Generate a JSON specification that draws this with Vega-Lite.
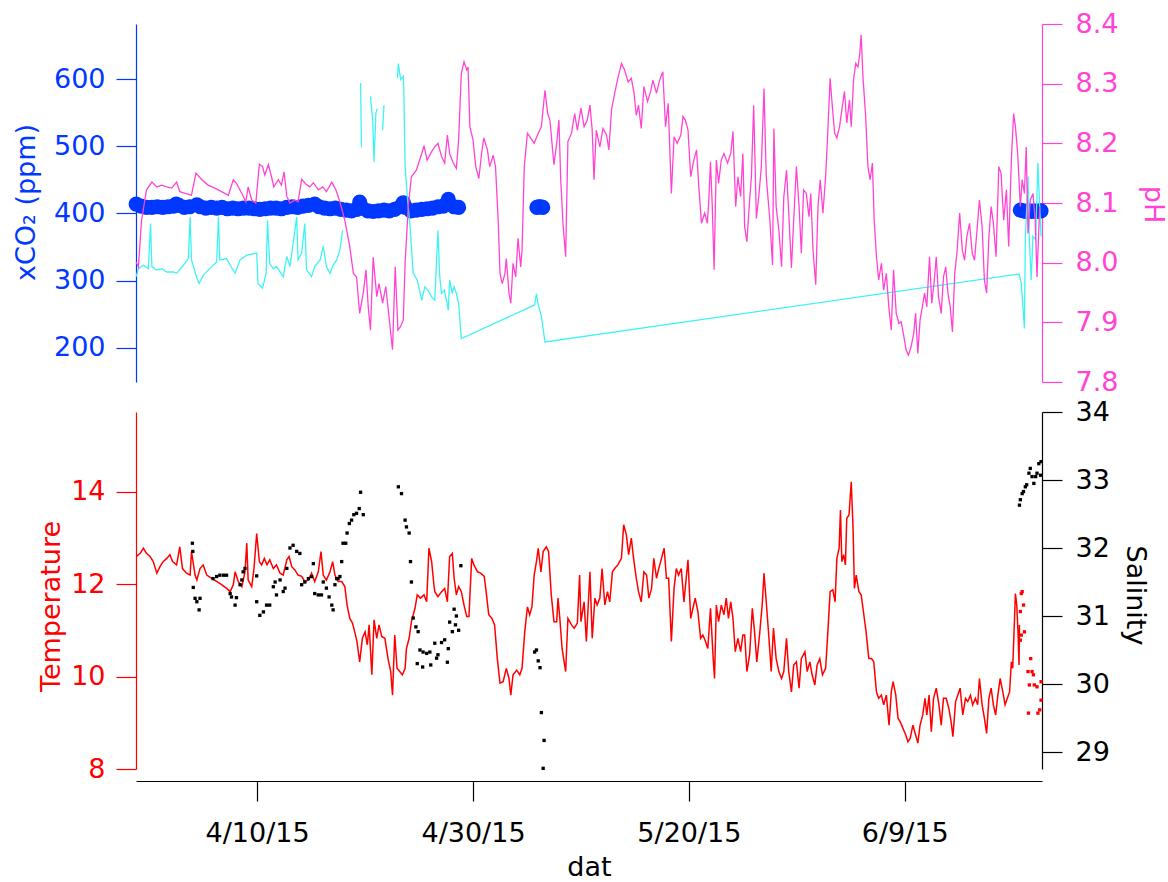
{
"$schema":"https://vega.github.io/schema/vega-lite/v6.json",
"width":906,"height":746,
"autosize":{"type":"none"},
"padding":{"left":136,"top":24,"right":126,"bottom":112},
"config":{"view":{"stroke":null},"axis":{"grid":false,"tickSize":20,"labelFont":"DejaVu Sans","titleFont":"DejaVu Sans","labelFontSize":27,"titleFontSize":27,"titleFontWeight":"normal","domainWidth":1.2,"tickWidth":1.2}},
"encoding":{
"x":{"field":"t","type":"temporal","scale":{"type":"time","nice":false,"domain":[{"year":2015,"month":3,"date":29,"hours":18,"minutes":40},{"year":2015,"month":6,"date":21,"hours":17,"minutes":6}]},"axis":{"orient":"bottom","offset":11,"values":[{"year":2015,"month":4,"date":10},{"year":2015,"month":4,"date":30},{"year":2015,"month":5,"date":20},{"year":2015,"month":6,"date":9}],"format":"%-m/%-d/%y","title":"dat","labelPadding":19,"titleY":94,"titleBaseline":"alphabetic","domainColor":"#000000","tickColor":"#000000","labelColor":"#000000","titleColor":"#000000"}}
},
"layer":[
{"data":{"values":[
{"t":"1508819","v":414},{"t":"1508906","v":411},{"t":"1508918","v":409},{"t":"1509006","v":409},{"t":"1509018","v":410},{"t":"1509106","v":409},{"t":"1509118","v":410},{"t":"1509206","v":411},{"t":"1509212","v":414},{"t":"1509218","v":412},{"t":"1509306","v":409},{"t":"1509318","v":410},{"t":"1509410","v":413},{"t":"1509418","v":410},{"t":"1509506","v":408},{"t":"1509518","v":409},{"t":"1509606","v":408},{"t":"1509618","v":409},{"t":"1509706","v":407},{"t":"1509718","v":408},{"t":"1509806","v":407},{"t":"1509818","v":408},{"t":"1509906","v":408},{"t":"1509918","v":407},{"t":"1510006","v":406},{"t":"1510018","v":407},{"t":"1510106","v":408},{"t":"1510118","v":408},{"t":"1510206","v":407},{"t":"1510218","v":409},{"t":"1510306","v":410},{"t":"1510318","v":409},{"t":"1510406","v":411},{"t":"1510418","v":412},{"t":"1510508","v":414},{"t":"1510518","v":410},{"t":"1510606","v":408},{"t":"1510618","v":407},{"t":"1510706","v":408},{"t":"1510718","v":406},{"t":"1510806","v":405},{"t":"1510818","v":404},{"t":"1510906","v":406},{"t":"1510912","v":417},{"t":"1510918","v":408},{"t":"1511006","v":404},{"t":"1511018","v":403},{"t":"1511106","v":404},{"t":"1511118","v":405},{"t":"1511206","v":404},{"t":"1511218","v":406},{"t":"1511306","v":410},{"t":"1511313","v":416},{"t":"1511318","v":409},{"t":"1511406","v":404},{"t":"1511418","v":405},{"t":"1511506","v":406},{"t":"1511518","v":407},{"t":"1511606","v":408},{"t":"1511618","v":410},{"t":"1511706","v":411},{"t":"1511717","v":421},{"t":"1511806","v":410},{"t":"1511816","v":409},
{"t":"1512522","v":409},{"t":"1512602","v":410},{"t":"1512606","v":410},{"t":"1512611","v":409},
{"t":"1517017","v":405},{"t":"1517100","v":404},{"t":"1517106","v":403},{"t":"1517112","v":404},{"t":"1517118","v":403},{"t":"1517200","v":404},{"t":"1517206","v":403},{"t":"1517212","v":404},{"t":"1517215","v":404}
],"format":{"parse":{"t":"date:'%y%j%H'"}}},
"mark":{"type":"circle","size":230,"opacity":1,"color":"#0038ff"},
"encoding":{
"y":{"field":"v","type":"quantitative","scale":{"domain":[149.4,681.8],"range":[358,0],"nice":false,"zero":false},"axis":{"orient":"left","values":[200,300,400,500,600],"title":"xCO₂ (ppm)","domainColor":"#0038ff","tickColor":"#0038ff","labelColor":"#0038ff","titleColor":"#0038ff","labelPadding":11,"titleX":-110,"titleY":178,"titleBaseline":"middle","titleAngle":270,"titleAlign":"center"}}}},
{"data":{"values":[
{"t":"1508819","v":306,"s":1},{"t":"1508900","v":318,"s":1},{"t":"1508911","v":323,"s":1},{"t":"1508922","v":318,"s":1},{"t":"1509003","v":385,"s":1},{"t":"1509006","v":321,"s":1},{"t":"1509017","v":316,"s":1},{"t":"1509104","v":318,"s":1},{"t":"1509115","v":313,"s":1},{"t":"1509206","v":313,"s":1},{"t":"1509213","v":311,"s":1},{"t":"1509304","v":323,"s":1},{"t":"1509315","v":333,"s":1},{"t":"1509319","v":395,"s":1},{"t":"1509322","v":331,"s":1},{"t":"1509410","v":304,"s":1},{"t":"1509415","v":296,"s":1},{"t":"1509500","v":308,"s":1},{"t":"1509519","v":321,"s":1},{"t":"1509606","v":328,"s":1},{"t":"1509610","v":395,"s":1},{"t":"1509613","v":331,"s":1},{"t":"1509704","v":333,"s":1},{"t":"1509712","v":323,"s":1},{"t":"1509723","v":311,"s":1},{"t":"1509810","v":331,"s":1},{"t":"1509901","v":338,"s":1},{"t":"1509923","v":341,"s":1},{"t":"1510002","v":296,"s":1},{"t":"1510012","v":289,"s":1},{"t":"1510020","v":311,"s":1},{"t":"1510023","v":390,"s":1},{"t":"1510104","v":326,"s":1},{"t":"1510112","v":318,"s":1},{"t":"1510119","v":321,"s":1},{"t":"1510210","v":306,"s":1},{"t":"1510218","v":336,"s":1},{"t":"1510301","v":321,"s":1},{"t":"1510316","v":395,"s":1},{"t":"1510319","v":331,"s":1},{"t":"1510403","v":341,"s":1},{"t":"1510410","v":385,"s":1},{"t":"1510414","v":316,"s":1},{"t":"1510501","v":306,"s":1},{"t":"1510508","v":321,"s":1},{"t":"1510520","v":331,"s":1},{"t":"1510603","v":351,"s":1},{"t":"1510610","v":321,"s":1},{"t":"1510618","v":311,"s":1},{"t":"1510701","v":323,"s":1},{"t":"1510709","v":331,"s":1},{"t":"1510716","v":346,"s":1},{"t":"1510722","v":375,"s":1},
{"t":"1510914","v":594,"s":2},{"t":"1510916","v":499,"s":2},
{"t":"1511012","v":574,"s":3},{"t":"1511017","v":539,"s":3},{"t":"1511020","v":477,"s":3},{"t":"1511100","v":549,"s":3},{"t":"1511103","v":556,"s":3},
{"t":"1511115","v":524,"s":4},{"t":"1511118","v":561,"s":4},
{"t":"1511300","v":601,"s":5},{"t":"1511302","v":623,"s":5},{"t":"1511307","v":599,"s":5},{"t":"1511313","v":604,"s":5},{"t":"1511314","v":589,"s":5},{"t":"1511317","v":470,"s":5},{"t":"1511322","v":425,"s":5},{"t":"1511404","v":380,"s":5},{"t":"1511411","v":311,"s":5},{"t":"1511420","v":301,"s":5},{"t":"1511506","v":271,"s":5},{"t":"1511513","v":291,"s":5},{"t":"1511520","v":286,"s":5},{"t":"1511604","v":276,"s":5},{"t":"1511611","v":271,"s":5},{"t":"1511618","v":375,"s":5},{"t":"1511622","v":306,"s":5},{"t":"1511702","v":281,"s":5},{"t":"1511708","v":286,"s":5},{"t":"1511713","v":271,"s":5},{"t":"1511717","v":256,"s":5},{"t":"1511720","v":301,"s":5},{"t":"1511802","v":281,"s":5},{"t":"1511806","v":291,"s":5},{"t":"1511811","v":281,"s":5},{"t":"1511816","v":266,"s":5},{"t":"1511822","v":214,"s":5},{"t":"1512517","v":264,"s":5},{"t":"1512521","v":281,"s":5},{"t":"1512601","v":264,"s":5},{"t":"1512608","v":247,"s":5},{"t":"1512616","v":209,"s":5},{"t":"1517014","v":310,"s":5},{"t":"1517019","v":296,"s":5},{"t":"1517102","v":229,"s":5},{"t":"1517104","v":361,"s":5},{"t":"1517110","v":455,"s":5},{"t":"1517113","v":361,"s":5},{"t":"1517117","v":301,"s":5},{"t":"1517121","v":366,"s":5},{"t":"1517203","v":361,"s":5},{"t":"1517208","v":475,"s":5},{"t":"1517212","v":410,"s":5},{"t":"1517215","v":366,"s":5}
],"format":{"parse":{"t":"date:'%y%j%H'"}}},
"mark":{"type":"line","color":"#3ff3f3","strokeWidth":1.3},
"encoding":{
"y":{"field":"v","type":"quantitative","scale":{"domain":[149.4,681.8],"range":[358,0],"nice":false,"zero":false},"axis":null},
"detail":{"field":"s","type":"nominal"}}},
{"data":{"values":[
{"t":"1508819","v":8.001},{"t":"1508900","v":7.993},{"t":"1508907","v":8.071},{"t":"1508918","v":8.122},{"t":"1509006","v":8.135},{"t":"1509017","v":8.127},{"t":"1509104","v":8.130},{"t":"1509115","v":8.127},{"t":"1509202","v":8.125},{"t":"1509213","v":8.135},{"t":"1509220","v":8.119},{"t":"1509308","v":8.116},{"t":"1509322","v":8.113},{"t":"1509408","v":8.150},{"t":"1509421","v":8.139},{"t":"1509511","v":8.130},{"t":"1509602","v":8.125},{"t":"1509617","v":8.119},{"t":"1509708","v":8.113},{"t":"1509719","v":8.139},{"t":"1509802","v":8.133},{"t":"1509814","v":8.116},{"t":"1509823","v":8.102},{"t":"1509904","v":8.127},{"t":"1509912","v":8.105},{"t":"1509921","v":8.100},{"t":"1510005","v":8.165},{"t":"1510012","v":8.161},{"t":"1510017","v":8.147},{"t":"1510101","v":8.164},{"t":"1510108","v":8.144},{"t":"1510113","v":8.127},{"t":"1510123","v":8.139},{"t":"1510206","v":8.130},{"t":"1510212","v":8.152},{"t":"1510218","v":8.111},{"t":"1510301","v":8.100},{"t":"1510312","v":8.105},{"t":"1510319","v":8.102},{"t":"1510403","v":8.140},{"t":"1510412","v":8.132},{"t":"1510421","v":8.127},{"t":"1510505","v":8.134},{"t":"1510516","v":8.122},{"t":"1510602","v":8.127},{"t":"1510610","v":8.119},{"t":"1510622","v":8.135},{"t":"1510707","v":8.122},{"t":"1510716","v":8.102},{"t":"1510803","v":8.071},{"t":"1510814","v":8.027},{"t":"1510822","v":7.982},{"t":"1510905","v":7.976},{"t":"1510912","v":7.915},{"t":"1510920","v":7.949},{"t":"1511002","v":7.988},{"t":"1511007","v":7.926},{"t":"1511012","v":7.887},{"t":"1511018","v":8.009},{"t":"1511102","v":7.943},{"t":"1511107","v":7.965},{"t":"1511115","v":7.932},{"t":"1511122","v":7.960},{"t":"1511206","v":7.904},{"t":"1511213","v":7.854},{"t":"1511219","v":7.993},{"t":"1511301","v":7.887},{"t":"1511307","v":7.893},{"t":"1511313","v":7.904},{"t":"1511317","v":7.999},{"t":"1511400","v":8.094},{"t":"1511407","v":8.144},{"t":"1511418","v":8.155},{"t":"1511506","v":8.183},{"t":"1511511","v":8.196},{"t":"1511518","v":8.172},{"t":"1511604","v":8.186},
{"t":"1511611","v":8.194},{"t":"1511618","v":8.200},{"t":"1511702","v":8.178},{"t":"1511709","v":8.167},{"t":"1511715","v":8.214},{"t":"1511720","v":8.183},{"t":"1511804","v":8.167},{"t":"1511811","v":8.158},{"t":"1511816","v":8.206},{"t":"1511822","v":8.317},{"t":"1511904","v":8.337},{"t":"1511910","v":8.323},{"t":"1511913","v":8.328},{"t":"1511917","v":8.228},{"t":"1512000","v":8.206},{"t":"1512006","v":8.161},{"t":"1512013","v":8.141},{"t":"1512019","v":8.183},{"t":"1512100","v":8.209},{"t":"1512108","v":8.189},{"t":"1512113","v":8.161},{"t":"1512121","v":8.180},{"t":"1512202","v":8.161},{"t":"1512208","v":8.071},{"t":"1512212","v":7.982},{"t":"1512217","v":7.965},{"t":"1512223","v":7.982},{"t":"1512302","v":8.007},{"t":"1512308","v":7.949},{"t":"1512312","v":7.932},{"t":"1512317","v":7.999},{"t":"1512323","v":7.976},{"t":"1512404","v":8.041},{"t":"1512410","v":7.993},{"t":"1512413","v":8.021},{"t":"1512418","v":8.161},{"t":"1512501","v":8.217},{"t":"1512508","v":8.209},{"t":"1512516","v":8.200},{"t":"1512601","v":8.217},{"t":"1512608","v":8.228},{"t":"1512616","v":8.289},{"t":"1512622","v":8.250},{"t":"1512703","v":8.239},{"t":"1512708","v":8.197},{"t":"1512712","v":8.164},{"t":"1512718","v":8.200},{"t":"1512723","v":8.239},{"t":"1512803","v":8.139},{"t":"1512808","v":8.066},{"t":"1512814","v":8.010},{"t":"1512819","v":8.203},{"t":"1512903","v":8.217},{"t":"1512910","v":8.250},{"t":"1512916","v":8.222},{"t":"1513000","v":8.259},{"t":"1513007","v":8.228},{"t":"1513014","v":8.239},{"t":"1513020","v":8.264},{"t":"1513101","v":8.222},{"t":"1513105","v":8.139},{"t":"1513110","v":8.222},{"t":"1513118","v":8.194},{"t":"1513201","v":8.225},{"t":"1513209","v":8.214},{"t":"1513214","v":8.189},{"t":"1513220","v":8.256},{"t":"1513303","v":8.284},{"t":"1513310","v":8.309},{"t":"1513318","v":8.334},{"t":"1513401","v":8.323},{"t":"1513409","v":8.303},{"t":"1513416","v":8.309},{"t":"1513422","v":8.284},{"t":"1513503","v":8.247},{"t":"1513508","v":8.264},{"t":"1513514","v":8.225},{"t":"1513520","v":8.295},{"t":"1513604","v":8.270},{"t":"1513611","v":8.287},{"t":"1513616","v":8.306},{"t":"1513700","v":8.284},{"t":"1513707","v":8.306},{"t":"1513714","v":8.320},{"t":"1513720","v":8.228},{"t":"1513802","v":8.267},{"t":"1513809","v":8.116},{"t":"1513815","v":8.211},{"t":"1513822","v":8.200},{"t":"1513906","v":8.214},{"t":"1513911","v":8.245},{"t":"1513916","v":8.239},{"t":"1513922","v":8.222},{"t":"1514004","v":8.144},{"t":"1514011","v":8.172},{"t":"1514017","v":8.189},{"t":"1514022","v":8.127},{"t":"1514104","v":8.066},{"t":"1514111","v":8.083},{"t":"1514117","v":8.066},{"t":"1514120","v":8.100},{"t":"1514200","v":8.169},{"t":"1514204","v":8.094},{"t":"1514208","v":7.988},{"t":"1514213","v":8.172},{"t":"1514218","v":8.133},{"t":"1514300","v":8.172},{"t":"1514306","v":8.183},{"t":"1514314","v":8.167},{"t":"1514321","v":8.183},{"t":"1514402","v":8.220},{"t":"1514408","v":8.094},{"t":"1514413","v":8.144},{"t":"1514419","v":8.111},{"t":"1514500","v":8.183},
{"t":"1514504","v":8.060},{"t":"1514509","v":8.035},{"t":"1514515","v":8.105},{"t":"1514519","v":8.144},{"t":"1514600","v":8.264},{"t":"1514606","v":8.074},{"t":"1514612","v":8.116},{"t":"1514617","v":8.161},{"t":"1514623","v":8.292},{"t":"1514704","v":8.144},{"t":"1514712","v":8.071},{"t":"1514718","v":7.996},{"t":"1514721","v":8.225},{"t":"1514802","v":8.094},{"t":"1514808","v":8.055},{"t":"1514814","v":7.993},{"t":"1514819","v":8.110},{"t":"1514901","v":8.155},{"t":"1514906","v":8.083},{"t":"1514912","v":7.991},{"t":"1514917","v":8.071},{"t":"1514923","v":8.161},{"t":"1515005","v":8.094},{"t":"1515010","v":8.016},{"t":"1515015","v":8.122},{"t":"1515021","v":8.116},{"t":"1515103","v":8.077},{"t":"1515107","v":8.116},{"t":"1515112","v":8.021},{"t":"1515118","v":7.963},{"t":"1515123","v":8.094},{"t":"1515204","v":8.139},{"t":"1515210","v":8.083},{"t":"1515216","v":8.144},{"t":"1515221","v":8.222},{"t":"1515302","v":8.309},{"t":"1515307","v":8.261},{"t":"1515312","v":8.217},{"t":"1515317","v":8.209},{"t":"1515323","v":8.228},{"t":"1515405","v":8.261},{"t":"1515410","v":8.287},{"t":"1515415","v":8.234},{"t":"1515421","v":8.273},{"t":"1515501","v":8.228},{"t":"1515506","v":8.306},{"t":"1515511","v":8.334},{"t":"1515516","v":8.328},{"t":"1515520","v":8.351},{"t":"1515523","v":8.382},{"t":"1515603","v":8.312},{"t":"1515609","v":8.245},{"t":"1515614","v":8.161},{"t":"1515619","v":8.139},{"t":"1515700","v":8.167},{"t":"1515704","v":8.071},{"t":"1515709","v":8.010},{"t":"1515714","v":7.971},{"t":"1515720","v":7.999},{"t":"1515801","v":7.954},{"t":"1515807","v":7.982},{"t":"1515813","v":7.921},{"t":"1515818","v":7.887},{"t":"1515823","v":7.988},{"t":"1515905","v":7.915},{"t":"1515911","v":7.898},{"t":"1515916","v":7.901},{"t":"1515922","v":7.876},{"t":"1516003","v":7.854},{"t":"1516008","v":7.845},{"t":"1516014","v":7.859},{"t":"1516020","v":7.882},{"t":"1516100","v":7.915},{"t":"1516105","v":7.848},{"t":"1516110","v":7.904},{"t":"1516115","v":7.926},{"t":"1516120","v":7.949},{"t":"1516201","v":7.926},{"t":"1516207","v":8.010},{"t":"1516212","v":7.932},{"t":"1516217","v":7.965},{"t":"1516222","v":8.010},{"t":"1516303","v":7.943},{"t":"1516309","v":7.915},{"t":"1516314","v":7.976},{"t":"1516319","v":7.993},{"t":"1516400","v":7.949},{"t":"1516405","v":7.926},{"t":"1516410","v":7.884},{"t":"1516415","v":7.982},{"t":"1516420","v":8.016},{"t":"1516502","v":8.083},{"t":"1516508","v":8.021},{"t":"1516513","v":8.004},{"t":"1516518","v":8.044},{"t":"1516600","v":8.066},{"t":"1516606","v":8.016},{"t":"1516611","v":8.004},{"t":"1516616","v":8.049},{"t":"1516622","v":8.105},{"t":"1516704","v":8.060},{"t":"1516709","v":7.971},{"t":"1516714","v":7.949},{"t":"1516719","v":8.044},{"t":"1516800","v":8.094},{"t":"1516805","v":8.066},{"t":"1516811","v":8.010},{"t":"1516817","v":8.161},{"t":"1516822","v":8.150},{"t":"1516904","v":8.071},{"t":"1516910","v":8.122},{"t":"1516915","v":8.027},{"t":"1516921","v":8.172},{"t":"1517002","v":8.250},{"t":"1517006","v":8.228},{"t":"1517011","v":8.183},{"t":"1517017","v":8.094},{"t":"1517021","v":8.139},{"t":"1517102","v":8.116},{"t":"1517106","v":8.194},{"t":"1517110","v":8.049},{"t":"1517115","v":8.105},{"t":"1517121","v":8.116},{"t":"1517202","v":8.071},{"t":"1517206","v":7.976},{"t":"1517212","v":8.094}
],"format":{"parse":{"t":"date:'%y%j%H'"}}},
"mark":{"type":"line","color":"#ff44d4","strokeWidth":1.3},
"encoding":{
"y":{"field":"v","type":"quantitative","scale":{"domain":[7.8,8.4],"range":[358,0],"nice":false,"zero":false},"axis":{"orient":"right","values":[7.8,7.9,8.0,8.1,8.2,8.3,8.4],"format":".1f","title":"pH","domainColor":"#ff44d4","tickColor":"#ff44d4","labelColor":"#ff44d4","titleColor":"#ff44d4","labelPadding":13,"titleX":110,"titleY":180,"titleBaseline":"middle","titleAngle":90,"titleAlign":"center"}}}},
{"data":{"values":[
{"t":"1508819","v":12.60},{"t":"1508904","v":12.67},{"t":"1508911","v":12.78},{"t":"1508918","v":12.67},{"t":"1509002","v":12.60},{"t":"1509009","v":12.49},{"t":"1509017","v":12.24},{"t":"1509100","v":12.38},{"t":"1509107","v":12.49},{"t":"1509115","v":12.56},{"t":"1509122","v":12.64},{"t":"1509204","v":12.49},{"t":"1509213","v":12.42},{"t":"1509220","v":12.81},{"t":"1509302","v":12.34},{"t":"1509311","v":12.24},{"t":"1509319","v":12.20},{"t":"1509322","v":12.71},{"t":"1509406","v":12.20},{"t":"1509410","v":12.09},{"t":"1509417","v":12.34},{"t":"1509500","v":12.42},{"t":"1509508","v":12.20},{"t":"1509519","v":12.13},{"t":"1509606","v":12.06},{"t":"1509617","v":11.99},{"t":"1509704","v":11.91},{"t":"1509712","v":11.84},{"t":"1509719","v":11.99},{"t":"1509723","v":12.27},{"t":"1509806","v":12.06},{"t":"1509814","v":11.95},{"t":"1509821","v":12.27},{"t":"1509901","v":12.89},{"t":"1509904","v":12.09},{"t":"1509912","v":11.95},{"t":"1509917","v":12.34},{"t":"1509923","v":13.10},{"t":"1510005","v":12.49},{"t":"1510010","v":12.42},{"t":"1510016","v":12.56},{"t":"1510022","v":12.42},{"t":"1510104","v":12.53},{"t":"1510112","v":12.34},{"t":"1510119","v":12.42},{"t":"1510203","v":12.24},{"t":"1510210","v":12.20},{"t":"1510218","v":12.53},{"t":"1510223","v":12.60},{"t":"1510305","v":12.38},{"t":"1510312","v":12.31},{"t":"1510319","v":12.20},{"t":"1510403","v":12.17},{"t":"1510410","v":12.06},{"t":"1510418","v":12.09},{"t":"1510501","v":12.24},{"t":"1510508","v":12.06},{"t":"1510516","v":12.27},{"t":"1510522","v":12.71},{"t":"1510603","v":12.20},{"t":"1510610","v":12.09},{"t":"1510618","v":12.27},{"t":"1510700","v":12.49},{"t":"1510705","v":12.20},{"t":"1510712","v":12.06},{"t":"1510720","v":12.06},{"t":"1510803","v":11.95},{"t":"1510808","v":11.55},{"t":"1510814","v":11.26},{"t":"1510820","v":11.16},{"t":"1510901","v":10.97},{"t":"1510906","v":10.76},{"t":"1510912","v":10.32},{"t":"1510918","v":10.83},{"t":"1511000","v":10.97},{"t":"1511005","v":10.69},{"t":"1511009","v":11.12},{"t":"1511015","v":10.04},{"t":"1511020","v":11.23},{"t":"1511102","v":10.83},{"t":"1511107","v":11.12},{"t":"1511113","v":10.87},{"t":"1511120","v":10.83},{"t":"1511203","v":10.39},{"t":"1511209","v":10.11},{"t":"1511213","v":9.60},{"t":"1511218","v":10.90},{"t":"1511223","v":10.18},{"t":"1511305","v":10.11},{"t":"1511311","v":10.04},{"t":"1511317","v":10.18},{"t":"1511320","v":10.61},{"t":"1511402","v":10.83},{"t":"1511407","v":11.19},{"t":"1511415","v":11.48},{"t":"1511420","v":11.77},{"t":"1511503","v":11.70},{"t":"1511511","v":11.77},{"t":"1511517","v":11.62},{"t":"1511522","v":12.78},{"t":"1511604","v":12.49},{"t":"1511609","v":11.99},{"t":"1511611","v":11.84},{"t":"1511618","v":11.73},{"t":"1511702","v":11.84},{"t":"1511709","v":11.91},{"t":"1511715","v":11.62},{"t":"1511720","v":12.60},{"t":"1511802","v":12.67},{"t":"1511806","v":12.13},{"t":"1511811","v":11.77},{"t":"1511816","v":11.95},{"t":"1511822","v":11.84},{"t":"1511904","v":11.55},{"t":"1511910","v":11.30},{"t":"1511915","v":11.30},{"t":"1511921","v":12.56},{"t":"1512002","v":12.42},{"t":"1512010","v":12.27},{"t":"1512017","v":12.24},{"t":"1512101","v":12.17},{"t":"1512106","v":11.77},{"t":"1512111","v":11.34},{"t":"1512118","v":11.26},{"t":"1512200","v":11.12},{"t":"1512206","v":10.39},{"t":"1512212","v":9.86},{"t":"1512219","v":9.89},{"t":"1512302","v":10.18},{"t":"1512308","v":9.96},{"t":"1512312","v":9.60},{"t":"1512317","v":10.04},{"t":"1512401","v":10.14},{"t":"1512408","v":10.04},{"t":"1512413","v":10.18},{"t":"1512419","v":10.97},{"t":"1512501","v":11.51},{"t":"1512506","v":11.34},{"t":"1512511","v":11.51},{"t":"1512516","v":12.20},{"t":"1512521","v":12.49},{"t":"1512601","v":12.78},{"t":"1512607","v":12.27},{"t":"1512612","v":12.71},{"t":"1512619","v":12.81},{"t":"1512700","v":12.71},{"t":"1512706","v":11.77},{"t":"1512712","v":11.19},{"t":"1512718","v":11.19},{"t":"1512721","v":11.70},{"t":"1512801","v":11.26},{"t":"1512806","v":10.61},{"t":"1512814","v":10.11},{"t":"1512819","v":11.26},{"t":"1512903","v":11.12},{"t":"1512909","v":11.05},{"t":"1512916","v":11.16},{"t":"1512921","v":12.20},{"t":"1513000","v":11.19},{"t":"1513007","v":11.62},{"t":"1513012","v":10.76},{"t":"1513020","v":12.27},{"t":"1513101","v":10.83},{"t":"1513107","v":11.70},{"t":"1513112","v":11.55},{"t":"1513118","v":11.70},{"t":"1513123","v":12.34},{"t":"1513205","v":11.55},{"t":"1513211","v":11.84},{"t":"1513216","v":11.62},{"t":"1513222","v":12.27},{"t":"1513303","v":12.34},{"t":"1513310","v":12.42},{"t":"1513318","v":12.56},{"t":"1513323","v":13.29},{"t":"1513405","v":13.07},{"t":"1513410","v":12.64},{"t":"1513416","v":13.00},{"t":"1513421","v":12.56},{"t":"1513503","v":12.13},{"t":"1513508","v":11.84},{"t":"1513514","v":11.62},{"t":"1513520","v":12.27},{"t":"1513602","v":12.20},{"t":"1513607","v":11.70},{"t":"1513613","v":11.91},{"t":"1513618","v":12.56},{"t":"1513700","v":12.13},{"t":"1513705","v":12.34},{"t":"1513711","v":12.56},{"t":"1513717","v":12.78},{"t":"1513722","v":12.13},{"t":"1513803","v":12.13},{"t":"1513809","v":10.76},{"t":"1513815","v":11.91},{"t":"1513820","v":12.34},{"t":"1513901","v":12.20},{"t":"1513907","v":12.34},{"t":"1513913","v":11.62},{"t":"1513918","v":12.13},{"t":"1513922","v":12.53},{"t":"1514004","v":11.26},{"t":"1514009","v":11.48},{"t":"1514014","v":11.70},{"t":"1514020","v":11.41},{"t":"1514102","v":10.83},{"t":"1514107","v":10.90},{"t":"1514113","v":10.76},{"t":"1514118","v":10.61},{"t":"1514200","v":11.48},{"t":"1514206","v":10.39},{"t":"1514209","v":9.96},{"t":"1514213","v":11.55},{"t":"1514218","v":11.19},{"t":"1514300","v":11.55},{"t":"1514306","v":11.34},{"t":"1514311","v":11.70},{"t":"1514316","v":11.26},{"t":"1514321","v":11.62},{"t":"1514402","v":11.26},{"t":"1514407","v":10.54},{"t":"1514413","v":10.83},{"t":"1514419","v":10.54},{"t":"1514500","v":10.90},{"t":"1514504","v":10.90},{"t":"1514509","v":10.11},{"t":"1514515","v":10.47},{"t":"1514521","v":11.48},{"t":"1514602","v":10.97},{"t":"1514607","v":10.32},{"t":"1514613","v":10.90},{"t":"1514619","v":11.55},{"t":"1514623","v":12.24},{"t":"1514704","v":11.62},{"t":"1514710","v":10.83},{"t":"1514715","v":10.11},{"t":"1514720","v":11.05},{"t":"1514802","v":10.39},{"t":"1514808","v":10.11},{"t":"1514814","v":9.96},{"t":"1514819","v":10.11},{"t":"1514901","v":10.83},{"t":"1514906","v":10.11},{"t":"1514912","v":9.67},{"t":"1514917","v":10.25},{"t":"1514923","v":10.32},{"t":"1515005","v":9.75},{"t":"1515010","v":10.39},{"t":"1515018","v":10.54},{"t":"1515023","v":10.11},{"t":"1515105","v":10.32},{"t":"1515110","v":10.04},{"t":"1515116","v":9.82},{"t":"1515121","v":10.25},{"t":"1515203","v":10.39},{"t":"1515209","v":10.04},{"t":"1515216","v":10.18},{"t":"1515221","v":10.97},{"t":"1515302","v":11.84},{"t":"1515308","v":11.88},{"t":"1515313","v":11.62},{"t":"1515317","v":12.56},{"t":"1515322","v":12.78},{"t":"1515401","v":13.61},{"t":"1515404","v":12.49},{"t":"1515408","v":12.64},{"t":"1515412","v":12.42},{"t":"1515415","v":13.43},{"t":"1515420","v":13.50},{"t":"1515501","v":14.22},{"t":"1515505","v":13.21},{"t":"1515508","v":11.91},{"t":"1515512","v":12.20},{"t":"1515518","v":11.84},{"t":"1515523","v":11.77},{"t":"1515604","v":11.41},{"t":"1515610","v":10.97},{"t":"1515616","v":10.39},{"t":"1515622","v":10.39},{"t":"1515703","v":10.32},{"t":"1515709","v":9.67},{"t":"1515714","v":9.53},{"t":"1515720","v":9.60},{"t":"1515801","v":9.39},{"t":"1515807","v":9.60},{"t":"1515813","v":8.95},{"t":"1515818","v":9.67},{"t":"1515822","v":9.89},{"t":"1515904","v":9.60},{"t":"1515909","v":9.10},{"t":"1515914","v":9.02},{"t":"1515920","v":8.88},{"t":"1516002","v":8.74},{"t":"1516007","v":8.59},{"t":"1516012","v":8.66},{"t":"1516018","v":8.95},{"t":"1516100","v":8.74},{"t":"1516105","v":8.56},{"t":"1516110","v":8.95},{"t":"1516116","v":9.17},{"t":"1516121","v":9.53},{"t":"1516201","v":9.17},{"t":"1516206","v":9.60},{"t":"1516211","v":8.81},{"t":"1516216","v":9.53},{"t":"1516222","v":9.75},{"t":"1516304","v":9.39},{"t":"1516309","v":8.95},{"t":"1516314","v":9.53},{"t":"1516320","v":9.53},{"t":"1516402","v":9.31},{"t":"1516407","v":9.02},{"t":"1516411","v":8.70},{"t":"1516417","v":9.46},{"t":"1516422","v":9.60},{"t":"1516503","v":9.75},{"t":"1516509","v":9.17},{"t":"1516515","v":9.53},{"t":"1516520","v":9.46},{"t":"1516602","v":9.60},{"t":"1516607","v":9.39},{"t":"1516613","v":9.53},{"t":"1516618","v":9.39},{"t":"1516622","v":9.96},{"t":"1516704","v":9.39},{"t":"1516709","v":9.10},{"t":"1516714","v":8.77},{"t":"1516719","v":9.53},{"t":"1516800","v":9.75},{"t":"1516805","v":9.39},{"t":"1516810","v":9.17},{"t":"1516815","v":9.60},{"t":"1516820","v":9.96},{"t":"1516902","v":9.67},{"t":"1516907","v":9.39},{"t":"1516912","v":9.53},{"t":"1516917","v":9.67},{"t":"1516921","v":10.32},{"t":"1517000","v":10.18},{"t":"1517004","v":11.26},{"t":"1517006","v":11.80},{"t":"1517009","v":11.55},{"t":"1517012","v":10.90},{"t":"1517014","v":10.25},{"t":"1517015","v":11.12}
],"format":{"parse":{"t":"date:'%y%j%H'"}}},
"mark":{"type":"line","color":"#ff0000","strokeWidth":1.5},
"encoding":{
"y":{"field":"v","type":"quantitative","scale":{"domain":[8,15.73],"range":[745,388],"nice":false,"zero":false},"axis":{"orient":"left","values":[8,10,12,14],"title":"Temperature","domainColor":"#ff0000","tickColor":"#ff0000","labelColor":"#ff0000","titleColor":"#ff0000","labelPadding":11,"titleX":-85,"titleY":582,"titleBaseline":"middle","titleAngle":270,"titleAlign":"center"}}}},
{"data":{"values":[
{"t":"1517017","v":11.41},{"t":"1517017","v":10.79},{"t":"1517019","v":11.80},{"t":"1517019","v":10.90},{"t":"1517021","v":11.84},{"t":"1517100","v":11.55},{"t":"1517102","v":10.97},{"t":"1517110","v":10.11},{"t":"1517111","v":9.21},{"t":"1517113","v":9.82},{"t":"1517116","v":10.39},{"t":"1517119","v":10.11},{"t":"1517122","v":10.04},{"t":"1517200","v":9.82},{"t":"1517206","v":9.78},{"t":"1517208","v":9.21},{"t":"1517212","v":9.28},{"t":"1517215","v":9.89},{"t":"1517215","v":9.49}
],"format":{"parse":{"t":"date:'%y%j%H'"}}},
"mark":{"type":"square","size":11,"opacity":1,"color":"#ff0000"},
"encoding":{
"y":{"field":"v","type":"quantitative","scale":{"domain":[8,15.73],"range":[745,388],"nice":false,"zero":false},"axis":null}}},
{"data":{"values":[
{"t":"1509400","v":32.07},{"t":"1509401","v":31.95},{"t":"1509402","v":31.42},{"t":"1509406","v":31.26},{"t":"1509410","v":31.21},{"t":"1509415","v":31.09},{"t":"1509417","v":31.26},{"t":"1509522","v":31.55},{"t":"1509606","v":31.58},{"t":"1509613","v":31.60},{"t":"1509621","v":31.60},{"t":"1509704","v":31.60},{"t":"1509712","v":31.33},{"t":"1509715","v":31.28},{"t":"1509723","v":31.16},{"t":"1509802","v":31.27},{"t":"1509810","v":31.46},{"t":"1509814","v":31.53},{"t":"1509817","v":31.65},{"t":"1509821","v":31.70},{"t":"1509923","v":31.59},{"t":"1509923","v":31.21},{"t":"1510006","v":31.01},{"t":"1510014","v":31.06},{"t":"1510021","v":31.16},{"t":"1510104","v":31.16},{"t":"1510112","v":31.43},{"t":"1510116","v":31.50},{"t":"1510119","v":31.31},{"t":"1510203","v":31.53},{"t":"1510210","v":31.36},{"t":"1510214","v":31.41},{"t":"1510218","v":31.70},{"t":"1510301","v":32.00},{"t":"1510308","v":32.04},{"t":"1510316","v":31.95},{"t":"1510323","v":31.92},{"t":"1510403","v":31.46},{"t":"1510410","v":31.50},{"t":"1510418","v":31.55},{"t":"1510501","v":31.58},{"t":"1510505","v":31.77},{"t":"1510508","v":31.33},{"t":"1510516","v":31.31},{"t":"1510523","v":31.31},{"t":"1510603","v":31.50},{"t":"1510610","v":31.41},{"t":"1510616","v":31.28},{"t":"1510622","v":31.16},{"t":"1510701","v":31.09},{"t":"1510705","v":31.46},{"t":"1510709","v":31.55},{"t":"1510712","v":31.55},{"t":"1510716","v":31.58},{"t":"1510720","v":31.80},{"t":"1510723","v":32.07},{"t":"1510805","v":32.07},{"t":"1510808","v":32.22},{"t":"1510813","v":32.36},{"t":"1510818","v":32.41},{"t":"1510823","v":32.49},{"t":"1510905","v":32.51},{"t":"1510911","v":32.58},{"t":"1510914","v":32.82},{"t":"1510920","v":32.49},{"t":"1511302","v":32.90},{"t":"1511309","v":32.80},{"t":"1511317","v":32.41},{"t":"1511320","v":32.31},{"t":"1511402","v":32.22},{"t":"1511405","v":31.80},{"t":"1511407","v":31.50},{"t":"1511411","v":30.97},{"t":"1511417","v":30.84},{"t":"1511420","v":30.30},{"t":"1511422","v":30.77},{"t":"1511502","v":30.50},{"t":"1511508","v":30.25},{"t":"1511509","v":30.47},{"t":"1511517","v":30.45},{"t":"1511600","v":30.47},{"t":"1511602","v":30.28},{"t":"1511611","v":30.60},{"t":"1511615","v":30.38},{"t":"1511618","v":30.43},{"t":"1511702","v":30.61},{"t":"1511709","v":30.65},{"t":"1511715","v":30.32},{"t":"1511717","v":30.52},{"t":"1511720","v":30.91},{"t":"1511802","v":30.77},{"t":"1511806","v":31.10},{"t":"1511809","v":30.87},{"t":"1511811","v":31.00},{"t":"1511816","v":30.79},{"t":"1511821","v":31.74},{"t":"1512517","v":30.47},{"t":"1512521","v":30.50},{"t":"1512601","v":30.34},{"t":"1512605","v":30.24},{"t":"1512608","v":29.58},{"t":"1512614","v":29.17},{"t":"1512612","v":28.76},{"t":"1517015","v":32.63},{"t":"1517017","v":32.71},{"t":"1517021","v":32.80},{"t":"1517100","v":32.83},{"t":"1517104","v":32.90},{"t":"1517107","v":32.93},{"t":"1517112","v":33.10},{"t":"1517115","v":33.17},{"t":"1517119","v":33.05},{"t":"1517123","v":32.95},{"t":"1517203","v":33.05},{"t":"1517206","v":33.10},{"t":"1517210","v":33.24},{"t":"1517214","v":33.07},{"t":"1517215","v":33.27}
],"format":{"parse":{"t":"date:'%y%j%H'"}}},
"mark":{"type":"square","size":11,"opacity":1,"color":"#000000"},
"encoding":{
"y":{"field":"v","type":"quantitative","scale":{"domain":[28.75,34],"range":[745,388],"nice":false,"zero":false},"axis":{"orient":"right","values":[29,30,31,32,33,34],"title":"Salinity","domainColor":"#000000","tickColor":"#000000","labelColor":"#000000","titleColor":"#000000","labelPadding":13,"titleX":92,"titleY":571,"titleBaseline":"middle","titleAngle":90,"titleAlign":"center"}}}}
],
"resolve":{"scale":{"y":"independent"},"axis":{"y":"independent"}}
}
